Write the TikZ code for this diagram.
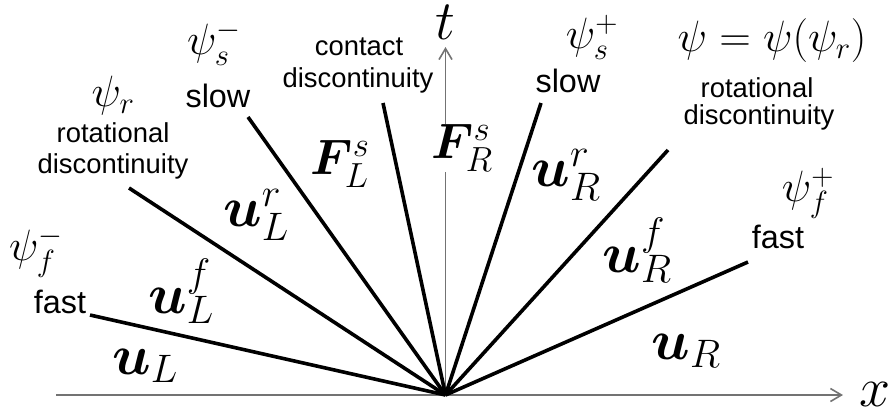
\RequirePackage{fix-cm}
\documentclass[tikz,border=0pt]{standalone}
\usepackage{bm}
\usepackage{fontspec}
\newfontfamily\arial{Liberation Sans}
\usetikzlibrary{arrows.meta}
\tikzset{
  axis/.style={draw=black!55, line width=1.8bp, -{Straight Barb[length=11bp,width=13bp,line width=1.6bp]}},
  ray/.style={draw=black, line width=3.6bp},
  lbl/.style={font=\arial\fontsize{27.5}{31}\selectfont, inner sep=0pt},
  wav/.style={font=\arial\fontsize{32.5}{36}\selectfont, inner sep=0pt},
  psi/.style={font=\fontsize{44}{50}\selectfont, inner sep=0pt},
  big/.style={font=\fontsize{57}{64}\selectfont, inner sep=0pt},
  bigF/.style={font=\fontsize{50}{60}\selectfont, inner sep=0pt},
  axlbl/.style={font=\fontsize{56}{62}\selectfont, inner sep=0pt}
}
\begin{document}
\begin{tikzpicture}[x=1bp,y=-1bp]
\useasboundingbox (0,0) rectangle (894,419);
% axes
\coordinate (O) at (445.5,395);
\coordinate (xs) at (56,395);
\coordinate (xe) at (843,395);
\coordinate (te) at (445.5,47);
\draw[axis] (xs) -- (xe);
\draw[axis] (O) -- (te);
\node[axlbl] (tl) at (445,22) {$t$};
\node[axlbl] (xl) at (875,394) {$x$};
% wave end points
\coordinate (fL) at (90,315);
\coordinate (rL) at (129,188);
\coordinate (sL) at (248,117);
\coordinate (cD) at (383,103);
\coordinate (sR) at (541,103);
\coordinate (rR) at (668,150);
\coordinate (fR) at (748,262);
\foreach \e in {fL,rL,sL,cD,sR,rR,fR} \draw[ray] (O) -- (\e);
% state labels
\node[big] (uL)  at (145,366) {$\bm{u}_L$};
\node[big] (uLf) at (181,291) {$\bm{u}_L^f$};
\node[big] (uLr) at (256,215) {$\bm{u}_L^r$};
\node[bigF] (FLs) at (340,164) {$\bm{F}_L^s$};
\node[bigF, fill=white, inner sep=1pt] (FRs) at (462,148) {$\bm{F}_R^s$};
\node[big] (uRr) at (566,175) {$\bm{u}_R^r$};
\node[big] (uRf) at (637,250) {$\bm{u}_R^f$};
\node[big] (uR)  at (686,351) {$\bm{u}_R$};
% wave labels
\node[psi] (pfm) at (36,252) {$\psi_f^-$};
\node[wav] (fastL) at (60,302) {fast};
\node[psi] (pr) at (113,96) {$\psi_r$};
\node[lbl] (rotL) at (113,133) {rotational};
\node[lbl] (disL) at (113,166) {discontinuity};
\node[psi] (psm) at (214,43) {$\psi_s^-$};
\node[wav] (slowL) at (218,96) {slow};
\node[lbl] (cont) at (359,47) {contact};
\node[lbl] (disC) at (358,80) {discontinuity};
\node[psi] (psp) at (592,37) {$\psi_s^+$};
\node[wav] (slowR) at (568,81) {slow};
\node[psi] (prr) at (772,41) {$\psi=\psi(\psi_r)$};
\node[lbl] (rotR) at (757,88) {rotational};
\node[lbl] (disR) at (759,117) {discontinuity};
\node[psi] (pfp) at (808,193) {$\psi_f^+$};
\node[wav] (fastR) at (778,237) {fast};
\end{tikzpicture}
\end{document}
